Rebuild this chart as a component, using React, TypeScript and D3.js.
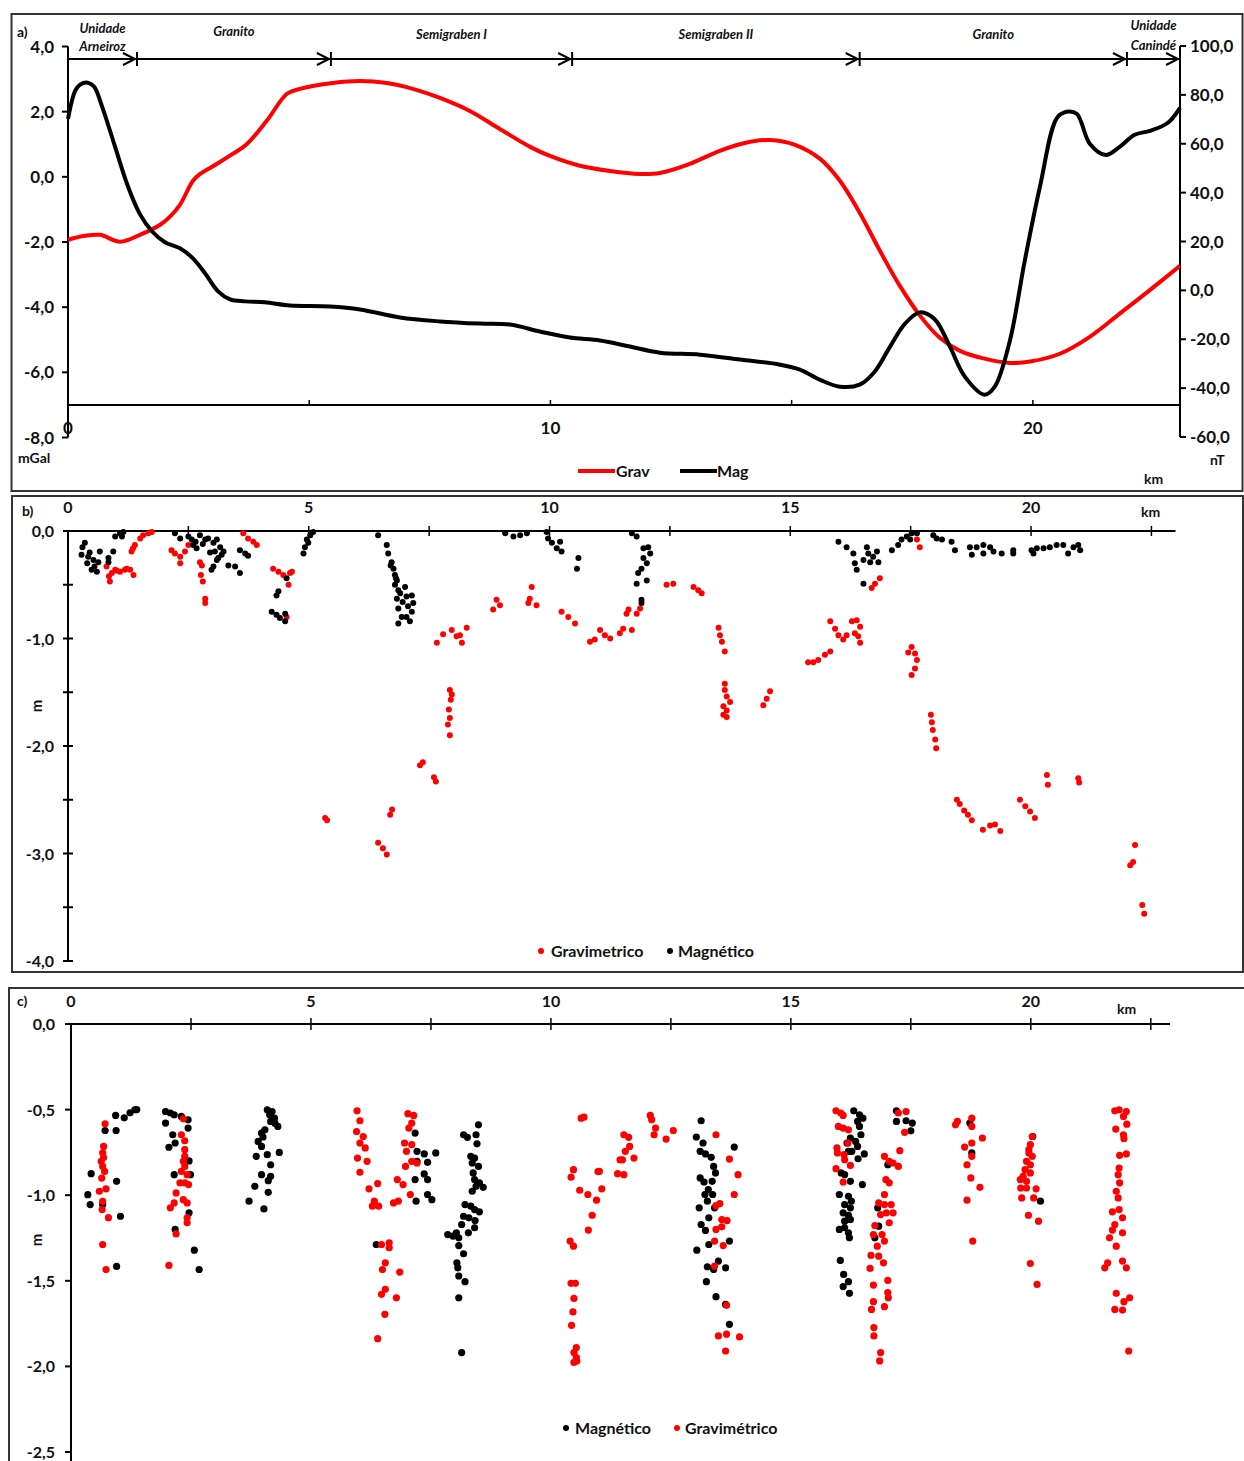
import React from 'react';
import * as d3 from 'd3';

const FONT = 'Lato, "Open Sans", sans-serif';

// a) perfil gravimétrico (mGal) e magnético (nT) ao longo do perfil (km)
const gravKm = [0, 0.35, 0.66, 1.08, 1.49, 1.91, 2.11, 2.32, 2.59, 2.74, 3.09, 3.42, 3.71, 4.12, 4.54, 4.81, 5.49, 6.05, 6.61, 7.15, 7.71, 8.33, 8.95, 9.58, 9.99, 10.61, 11.23, 11.85, 12.27, 12.89, 13.51, 14.03, 14.55, 15.07, 15.59, 16.0, 16.41, 16.83, 17.24, 17.66, 18.07, 18.49, 19.0, 19.52, 19.94, 20.56, 21.18, 21.8, 22.43, 23.05];
const gravMgal = [-1.93, -1.81, -1.78, -1.99, -1.78, -1.47, -1.23, -0.86, -0.12, 0.09, 0.4, 0.71, 1.01, 1.72, 2.55, 2.7, 2.88, 2.94, 2.88, 2.7, 2.42, 2.02, 1.47, 0.92, 0.64, 0.34, 0.18, 0.09, 0.12, 0.4, 0.8, 1.04, 1.13, 0.98, 0.55, -0.12, -1.1, -2.27, -3.34, -4.26, -4.94, -5.34, -5.58, -5.71, -5.67, -5.43, -4.91, -4.2, -3.47, -2.73];

const magKm = [0, 0.15, 0.25, 0.41, 0.54, 0.7, 0.97, 1.24, 1.49, 1.74, 2.01, 2.32, 2.59, 2.84, 3.11, 3.36, 3.67, 4.08, 4.6, 5.43, 6.05, 6.88, 7.71, 8.54, 9.16, 9.78, 10.4, 11.03, 11.65, 12.27, 13.1, 13.93, 14.76, 15.17, 15.59, 16.0, 16.41, 16.72, 17.04, 17.35, 17.66, 17.97, 18.28, 18.59, 19.0, 19.21, 19.52, 19.83, 20.15, 20.5, 20.7, 20.91, 21.18, 21.51, 21.8, 22.11, 22.43, 22.8, 23.05];
const magNt = [70.2, 81.7, 84.2, 85.0, 83.4, 75.6, 59.1, 42.7, 31.2, 24.2, 19.7, 17.2, 13.1, 7.0, -0.4, -3.7, -4.5, -4.9, -6.2, -6.6, -7.8, -11.1, -12.7, -13.6, -14.0, -16.8, -19.3, -20.5, -23.0, -25.5, -26.3, -28.3, -30.4, -32.4, -36.6, -39.4, -38.6, -33.3, -23.0, -13.6, -9.0, -11.9, -23.0, -35.3, -42.7, -39.4, -20.9, 11.9, 42.7, 70.6, 73.1, 72.3, 60.0, 55.4, 58.7, 63.7, 65.3, 68.6, 74.7];

const unitBounds = [0, 1.43, 5.45, 10.45, 16.41, 21.95, 23.05];
const unitNames = [['Unidade', 'Arneiroz'], ['Granito'], ['Semigraben I'], ['Semigraben II'], ['Granito'], ['Unidade', 'Canindé']];

const gravTicks = [4, 2, 0, -2, -4, -6, -8];
const magTicks = [100, 80, 60, 40, 20, 0, -20, -40, -60];
const kmTicksA = [5, 10, 15, 20];
const kmLabelsA = [0, 10, 20];

// b) profundidade (m) — fontes gravimétricas e magnéticas
const gravB = [
  [0.80, -0.33], [0.91, -0.39], [0.87, -0.47], [0.98, -0.36], [1.08, -0.38], [1.18, -0.36], [1.29, -0.36], [1.36, -0.41], [1.32, -0.19], [1.39, -0.13], [1.50, -0.07], [1.56, -0.04], [1.67, -0.02], [1.74, -0.01], [0.85, -0.42], [1.02, -0.37], [1.22, -0.35], [1.35, -0.16],
  [2.15, -0.18], [2.22, -0.21], [2.33, -0.24], [2.33, -0.30], [2.43, -0.19], [2.50, -0.13], [2.74, -0.29], [2.78, -0.32], [2.76, -0.41], [2.80, -0.47], [2.85, -0.63], [2.85, -0.67], [3.64, -0.02], [3.74, -0.07], [3.85, -0.10], [3.92, -0.13],
  [4.26, -0.35], [4.37, -0.38], [4.47, -0.41], [4.61, -0.39], [4.65, -0.38], [4.58, -0.50], [4.54, -0.80],
  [5.34, -2.67], [5.38, -2.69], [6.44, -2.90], [6.54, -2.95], [6.62, -3.01], [6.69, -2.64], [6.73, -2.59], [7.37, -2.15], [7.31, -2.18], [7.60, -2.29], [7.64, -2.33],
  [7.93, -1.48], [7.95, -1.57], [7.91, -1.66], [7.93, -1.74], [7.89, -1.80], [7.93, -1.90], [7.97, -1.52], [7.66, -1.04], [7.79, -0.96], [7.97, -0.92], [8.07, -0.98], [8.14, -0.97], [8.28, -0.90], [8.18, -1.04],
  [8.90, -0.64], [8.83, -0.73], [8.97, -0.69], [9.63, -0.52], [9.59, -0.63], [9.56, -0.67], [9.73, -0.69], [10.25, -0.75], [10.39, -0.80], [10.53, -0.86], [10.84, -1.03], [10.94, -1.01], [11.05, -0.92], [11.15, -0.97], [11.26, -1.00], [11.46, -0.95], [11.53, -0.91], [11.71, -0.92], [11.60, -0.77], [11.64, -0.73], [11.81, -0.77], [11.88, -0.72],
  [12.43, -0.50], [12.57, -0.49], [12.99, -0.52], [13.09, -0.55], [13.16, -0.58],
  [13.51, -0.90], [13.54, -0.97], [13.58, -1.03], [13.64, -1.12], [13.64, -1.42], [13.64, -1.48], [13.68, -1.54], [13.75, -1.59], [13.61, -1.63], [13.68, -1.67], [13.61, -1.71], [13.68, -1.73], [14.58, -1.49], [14.51, -1.56], [14.44, -1.62],
  [15.37, -1.22], [15.48, -1.22], [15.58, -1.20], [15.72, -1.15], [15.83, -1.12], [15.83, -0.84], [15.93, -0.91], [16.00, -0.97], [16.10, -1.01], [16.17, -0.97], [16.28, -0.84], [16.38, -0.83], [16.45, -0.89], [16.41, -0.98], [16.45, -1.04], [16.34, -0.95],
  [16.86, -0.44], [16.76, -0.49], [16.69, -0.53], [17.63, -0.08], [17.69, -0.15],
  [17.52, -1.08], [17.59, -1.14], [17.63, -1.20], [17.59, -1.28], [17.52, -1.34], [17.45, -1.13],
  [17.92, -1.71], [17.94, -1.78], [17.96, -1.85], [18.01, -1.94], [18.03, -2.02], [18.46, -2.50], [18.52, -2.54], [18.61, -2.60], [18.69, -2.64], [18.77, -2.69], [19.00, -2.78], [19.15, -2.74], [19.25, -2.73], [19.36, -2.79],
  [19.77, -2.50], [19.88, -2.56], [19.98, -2.61], [20.08, -2.67], [20.33, -2.27], [20.35, -2.36], [20.98, -2.30], [21.00, -2.34], [22.16, -2.92], [22.12, -3.08], [22.06, -3.11], [22.31, -3.48], [22.35, -3.56],
];
const magB = [
  [0.35, -0.11], [0.42, -0.24], [0.28, -0.22], [0.53, -0.27], [0.49, -0.36], [0.60, -0.38], [0.66, -0.19], [0.63, -0.29], [0.84, -0.25], [0.94, -0.19], [0.84, -0.29], [0.98, -0.05], [1.08, -0.02], [1.12, -0.05], [1.15, -0.01], [0.30, -0.15], [0.40, -0.30], [0.55, -0.33], [0.45, -0.20],
  [2.22, -0.02], [2.33, -0.07], [2.50, -0.05], [2.57, -0.08], [2.60, -0.13], [2.74, -0.04], [2.85, -0.08], [2.91, -0.07], [3.02, -0.11], [3.09, -0.08], [3.16, -0.15], [3.05, -0.19], [3.19, -0.22], [3.09, -0.27], [3.02, -0.33], [2.98, -0.36], [3.23, -0.19], [3.33, -0.32], [3.47, -0.33], [3.57, -0.39], [2.67, -0.16], [3.57, -0.18], [3.68, -0.21], [3.74, -0.23], [2.80, -0.12], [2.95, -0.20], [3.12, -0.25], [2.65, -0.10],
  [4.37, -0.56], [4.33, -0.60], [4.23, -0.75], [4.33, -0.78], [4.40, -0.81], [4.51, -0.84], [4.54, -0.44], [4.51, -0.77],
  [4.89, -0.21], [4.92, -0.15], [4.96, -0.08], [5.03, -0.04], [5.09, -0.01], [4.99, -0.11],
  [6.44, -0.04], [6.62, -0.13], [6.65, -0.21], [6.72, -0.29], [6.76, -0.35], [6.79, -0.41], [6.83, -0.46], [6.79, -0.50], [6.86, -0.55], [6.90, -0.58], [6.83, -0.63], [7.00, -0.52], [7.03, -0.61], [7.14, -0.60], [7.17, -0.67], [6.86, -0.72], [6.93, -0.80], [6.86, -0.86], [7.03, -0.80], [7.10, -0.84], [7.14, -0.75], [6.70, -0.32], [6.81, -0.44], [6.95, -0.66], [7.06, -0.70],
  [9.08, -0.02], [9.25, -0.05], [9.39, -0.04], [9.53, -0.02], [9.94, -0.01], [9.97, -0.07], [10.05, -0.11], [10.15, -0.16], [10.25, -0.19], [10.22, -0.10], [10.60, -0.25], [10.57, -0.35],
  [11.71, -0.02], [11.81, -0.05], [11.95, -0.16], [12.05, -0.15], [12.09, -0.21], [11.95, -0.25], [12.02, -0.30], [11.91, -0.35], [11.84, -0.39], [12.02, -0.46], [11.81, -0.49], [11.91, -0.64], [11.91, -0.67],
  [16.00, -0.10], [16.17, -0.15], [16.31, -0.21], [16.34, -0.30], [16.38, -0.36], [16.52, -0.49], [16.59, -0.15], [16.62, -0.21], [16.72, -0.24], [16.66, -0.29], [16.80, -0.19], [16.83, -0.29], [16.52, -0.27],
  [17.11, -0.18], [17.24, -0.13], [17.31, -0.08], [17.42, -0.05], [17.52, -0.02], [17.63, -0.02], [17.49, -0.08], [17.97, -0.04], [18.04, -0.07], [18.15, -0.08], [18.35, -0.10], [18.42, -0.18], [18.73, -0.15], [18.77, -0.22], [18.87, -0.15], [19.01, -0.13], [19.01, -0.21], [19.15, -0.15], [19.22, -0.19], [19.39, -0.21], [19.63, -0.18], [19.63, -0.21],
  [20.01, -0.18], [20.12, -0.16], [20.26, -0.16], [20.39, -0.15], [20.53, -0.13], [20.67, -0.13], [20.77, -0.21], [20.88, -0.15], [20.98, -0.13], [21.02, -0.18], [20.05, -0.21],
];
const depthTicksB = [0, -0.5, -1, -1.5, -2, -2.5, -3, -3.5, -4];
const depthLabelsB = [0, -1, -2, -3, -4];

// c) profundidade (m) — segunda estimativa
const magC = [
  [0.42, -0.874], [0.35, -0.997], [0.40, -1.055], [0.66, -1.055], [0.71, -0.622], [0.93, -0.534], [0.94, -0.622], [0.95, -0.919], [1.03, -1.123], [0.95, -1.416], [1.11, -0.548], [1.23, -0.519], [1.33, -0.501], [1.37, -0.5],
  [1.97, -0.511], [2.07, -0.52], [2.15, -0.53], [2.30, -0.54], [2.44, -0.56], [1.97, -0.579], [2.12, -0.647], [2.17, -0.695], [2.04, -0.72], [2.44, -0.608], [2.15, -0.88], [2.49, -0.88], [2.46, -0.80], [2.46, -1.103], [2.17, -1.20], [2.57, -1.321], [2.67, -1.434],
  [4.09, -0.501], [4.19, -0.511], [4.24, -0.55], [4.16, -0.569], [4.31, -0.598], [4.04, -0.618], [3.97, -0.637], [3.90, -0.686], [3.97, -0.715], [3.86, -0.773], [4.09, -0.763], [4.16, -0.822], [4.34, -0.75], [3.97, -0.88], [4.16, -0.89], [4.11, -0.915], [3.83, -0.948], [4.11, -0.983], [3.71, -1.035], [4.02, -1.08], [4.14, -0.53], [4.25, -0.58], [4.00, -0.66],
  [6.36, -1.288], [7.17, -0.637], [7.21, -0.744], [7.36, -0.759], [7.60, -0.753], [7.21, -0.802], [7.43, -0.808], [7.36, -0.876], [7.43, -0.909], [7.17, -0.909], [7.43, -0.996], [7.52, -1.026], [7.19, -1.035],
  [8.49, -0.589], [8.18, -0.647], [8.26, -0.662], [8.44, -0.647], [8.46, -0.70], [8.33, -0.773], [8.41, -0.783], [8.36, -0.812], [8.49, -0.832], [8.38, -0.87], [8.41, -0.909], [8.51, -0.928], [8.59, -0.954], [8.44, -0.948], [8.36, -0.977], [8.21, -1.055], [8.33, -1.064], [8.51, -1.097], [8.41, -1.084], [8.18, -1.123], [8.29, -1.132], [8.42, -1.148], [8.14, -1.171], [8.41, -1.19], [8.28, -1.22], [8.03, -1.22], [7.85, -1.23], [7.96, -1.239], [8.08, -1.249], [8.08, -1.294], [8.18, -1.342], [8.04, -1.395], [8.06, -1.424], [8.08, -1.472], [8.21, -1.505], [8.08, -1.599], [8.14, -1.919],
  [13.13, -0.565], [13.03, -0.66], [13.17, -0.695], [13.11, -0.744], [13.22, -0.759], [13.34, -0.779], [13.39, -0.832], [13.43, -0.87], [13.11, -0.899], [13.19, -0.923], [13.36, -0.919], [13.28, -0.967], [13.21, -0.996], [13.37, -0.996], [13.26, -1.035], [13.09, -1.074], [13.41, -1.074], [13.29, -1.132], [13.13, -1.171], [13.22, -1.206], [13.29, -1.288], [13.04, -1.321], [13.72, -1.268], [13.26, -1.418], [13.49, -1.385], [13.64, -1.424], [13.39, -1.434], [13.24, -1.505], [13.44, -1.593], [13.64, -1.638], [13.72, -1.754], [13.82, -0.719],
  [16.31, -0.507], [16.43, -0.53], [16.50, -0.55], [16.39, -0.569], [16.43, -0.598], [16.46, -0.647], [16.24, -0.666], [16.35, -0.686], [16.39, -0.715], [16.27, -0.744], [16.53, -0.759], [16.40, -0.787], [16.17, -0.695], [16.20, -0.744], [16.05, -0.87], [16.12, -0.88], [16.24, -0.919], [16.49, -0.938], [16.01, -0.996], [16.20, -1.006], [16.26, -1.035], [16.12, -1.055], [16.24, -1.074], [16.09, -1.103], [16.20, -1.117], [16.12, -1.152], [16.24, -1.142], [16.01, -1.2], [16.12, -1.19], [16.20, -1.22], [16.22, -1.249], [16.03, -1.381], [16.10, -1.463], [16.20, -1.505], [16.09, -1.534], [16.22, -1.573],
  [17.20, -0.507], [17.40, -0.565], [17.20, -0.569], [17.53, -0.579], [17.50, -0.624], [17.02, -0.822], [16.75, -1.249], [16.83, -1.181], [16.81, -1.074],
  [18.73, -0.579], [18.77, -0.753], [20.04, -0.657], [20.20, -1.035],
];
const gravC = [
  [0.71, -0.583], [0.68, -0.715], [0.66, -0.752], [0.63, -0.802], [0.66, -0.832], [0.70, -0.861], [0.59, -0.977], [0.73, -0.963], [0.66, -1.036], [0.65, -1.084], [0.78, -1.131], [0.66, -1.288], [0.73, -1.434], [0.68, -0.78], [0.64, -0.90],
  [2.34, -0.554], [2.30, -0.647], [2.37, -0.682], [2.37, -0.734], [2.37, -0.773], [2.34, -0.802], [2.37, -0.832], [2.30, -0.861], [2.42, -0.88], [2.27, -0.928], [2.37, -0.928], [2.45, -0.938], [2.19, -0.987], [2.34, -1.026], [2.15, -1.045], [2.07, -1.074], [2.42, -1.045], [2.42, -1.132], [2.42, -1.161], [2.19, -1.226], [2.04, -1.41],
  [5.96, -0.507], [6.02, -0.565], [5.95, -0.628], [6.09, -0.657], [6.02, -0.695], [6.13, -0.724], [5.97, -0.783], [6.17, -0.802], [6.02, -0.866], [6.39, -0.932], [6.21, -0.963], [6.32, -1.035], [6.28, -1.064], [6.41, -1.064], [6.72, -1.045], [6.82, -1.035], [6.80, -0.909], [6.92, -0.938], [7.07, -0.996],
  [6.47, -1.288], [6.63, -1.278], [6.63, -1.307], [6.55, -1.395], [6.49, -1.434], [6.85, -1.449], [6.55, -1.55], [6.47, -1.579], [6.78, -1.599], [6.54, -1.696], [6.39, -1.838],
  [7.02, -0.524], [7.14, -0.534], [7.10, -0.579], [7.04, -0.608], [6.95, -0.695], [7.10, -0.705], [6.99, -0.744], [7.10, -0.802], [7.21, -0.812], [6.97, -0.832],
  [10.63, -0.55], [10.69, -0.544], [10.47, -0.851], [10.42, -0.895], [10.60, -0.971], [11.01, -0.861], [11.06, -0.963], [10.95, -1.029], [10.86, -1.117], [10.78, -1.204], [10.40, -1.268], [10.47, -1.298], [10.42, -1.515], [10.51, -1.515], [10.48, -1.603], [10.46, -1.682], [10.43, -1.76], [10.53, -1.89], [10.48, -1.919], [10.53, -1.948], [10.48, -1.977], [10.54, -1.968],
  [11.39, -0.874], [11.44, -0.793], [10.98, -0.862], [10.77, -0.996], [11.52, -0.647], [11.62, -0.662], [11.64, -0.715], [11.55, -0.744], [11.73, -0.783], [11.49, -0.793], [11.52, -0.88], [12.07, -0.534], [12.10, -0.559], [12.18, -0.608], [12.15, -0.647], [12.40, -0.672], [12.55, -0.622],
  [13.44, -0.647], [13.72, -0.789], [13.90, -0.88], [13.82, -0.996], [13.52, -1.049], [13.44, -1.061], [13.56, -1.142], [13.67, -1.148], [13.56, -1.185], [13.44, -1.2], [13.41, -1.268], [13.59, -1.294], [13.41, -1.414], [13.66, -1.643], [13.49, -1.822], [13.66, -1.812], [13.93, -1.828], [13.64, -1.91],
  [15.94, -0.507], [16.04, -0.52], [16.09, -0.534], [15.99, -0.598], [16.09, -0.608], [16.20, -0.618], [15.96, -0.724], [16.11, -0.763], [15.97, -0.753], [16.12, -0.793], [16.24, -0.826], [15.94, -0.845], [16.09, -0.923], [16.19, -0.695],
  [16.95, -0.773], [17.05, -0.802], [17.13, -0.812], [17.24, -0.832], [17.27, -0.74], [16.98, -0.909], [17.05, -0.928], [16.95, -0.996], [16.83, -1.045], [16.95, -1.055], [17.09, -1.055], [16.87, -1.113], [16.99, -1.103], [17.13, -1.103], [17.05, -1.161], [16.75, -1.177], [16.72, -1.23], [16.90, -1.23], [16.95, -1.268], [16.80, -1.298], [16.83, -1.356], [16.67, -1.352], [16.93, -1.395], [16.65, -1.428], [16.72, -1.525], [17.02, -1.498], [17.02, -1.569], [17.03, -1.599], [16.72, -1.622], [16.68, -1.667], [16.95, -1.651], [16.73, -1.773], [16.73, -1.822], [16.87, -1.919], [16.85, -1.968], [17.24, -0.52], [17.40, -0.511], [17.37, -0.633],
  [18.43, -0.589], [18.47, -0.569], [18.77, -0.55], [18.77, -0.598], [18.99, -0.666], [18.77, -0.695], [18.62, -0.719], [18.77, -0.773], [18.67, -0.822], [18.75, -0.899], [18.94, -0.954], [18.67, -1.029], [18.79, -1.268],
  [20.03, -0.657], [19.99, -0.705], [19.96, -0.753], [20.03, -0.773], [19.91, -0.802], [19.99, -0.822], [19.88, -0.851], [19.99, -0.87], [19.84, -0.89], [19.91, -0.919], [19.78, -0.909], [19.79, -0.958], [19.91, -0.958], [20.11, -0.963], [19.81, -1.016], [20.06, -1.016], [19.95, -1.117], [20.16, -1.152], [19.99, -1.399], [20.13, -1.521], [19.96, -0.734],
  [21.75, -0.507], [21.84, -0.501], [21.99, -0.511], [21.93, -0.54], [22.00, -0.585], [21.77, -0.614], [21.93, -0.647], [21.94, -0.67], [21.99, -0.759], [21.85, -0.767], [21.84, -0.841], [21.82, -0.88], [21.85, -0.928], [21.78, -0.977], [21.82, -1.016], [21.84, -1.084], [21.70, -1.097], [21.91, -1.132], [21.75, -1.171], [21.70, -1.204], [21.91, -1.22], [21.64, -1.249], [21.78, -1.298], [21.54, -1.424], [21.60, -1.395], [21.91, -1.385], [21.99, -1.424], [21.78, -1.573], [22.06, -1.599], [21.94, -1.622], [21.75, -1.667], [21.91, -1.671], [22.04, -1.91],
];
const depthTicksC = [0, -0.5, -1, -1.5, -2, -2.5];
const kmTicks = [2.5, 5, 7.5, 10, 12.5, 15, 17.5, 20, 22.5];
const kmLabels = [0, 5, 10, 15, 20];

const RED = '#ff0000';
const fmt = (v: number) => v.toFixed(1).replace('.', ',');

const lbl = { fontFamily: FONT, fontWeight: 700, fill: '#111' } as const;

export default function App() {
  // ---------- a) ----------
  const xA = d3.scaleLinear().domain([0, 23.05]).range([68, 1180]);
  const yGrav = d3.scaleLinear().domain([-8, 4]).range([437.5, 46.5]);
  const yMag = d3.scaleLinear().domain([-60, 100]).range([437, 46]);
  const gravLine = d3.line<number>().x((_, i) => xA(gravKm[i])).y(d => yGrav(d)).curve(d3.curveCatmullRom.alpha(0.5));
  const magLine = d3.line<number>().x((_, i) => xA(magKm[i])).y(d => yMag(d)).curve(d3.curveCatmullRom.alpha(0.5));
  const arrowY = 59;
  const axisYA = yGrav(-7);

  // ---------- b) ----------
  const xB = d3.scaleLinear().domain([0, 23]).range([68, 1175.5]);
  const yB = d3.scaleLinear().domain([-4, 0]).range([961, 531]);

  // ---------- c) ----------
  const xC = d3.scaleLinear().domain([0, 22.9]).range([71, 1170]);
  const yC = d3.scaleLinear().domain([-2.5, 0]).range([1452, 1024]);

  return (
    <svg width={1244} height={1461} style={{ position: 'absolute', left: 0, top: 0, background: '#fff' }}>
      {/* molduras */}
      <rect x={11.5} y={14} width={1231} height={477} fill="none" stroke="#333" strokeWidth={2} />
      <rect x={12} y={496} width={1231} height={476} fill="none" stroke="#333" strokeWidth={2} />
      <rect x={9} y={988} width={1243} height={480} fill="none" stroke="#333" strokeWidth={2} />

      {/* ===== painel a ===== */}
      <text x={17} y={37} fontSize={14} {...lbl}>a)</text>
      {/* unidades geológicas */}
      <line x1={xA(0)} x2={xA(23.05)} y1={arrowY} y2={arrowY} stroke="#000" strokeWidth={2} />
      {unitBounds.slice(1).map((b, i) => (
        <g key={'ub' + i} stroke="#000" strokeWidth={2} fill="none">
          <line x1={xA(b)} x2={xA(b)} y1={arrowY - 7} y2={arrowY + 7} />
          <path d={`M${xA(b) - 14},${arrowY - 6}L${xA(b) - 2},${arrowY}L${xA(b) - 14},${arrowY + 6}`} />
        </g>
      ))}
      {unitNames.map((n, i) => {
        const cx = (xA(unitBounds[i]) + xA(unitBounds[i + 1])) / 2;
        return n.length === 2 ? (
          <g key={'un' + i}>
            <text x={cx} y={i === 0 ? 33 : 30} textAnchor="middle" fontSize={13} fontStyle="italic" {...lbl}>{n[0]}</text>
            <text x={cx} y={i === 0 ? 51 : 50} textAnchor="middle" fontSize={13} fontStyle="italic" {...lbl}>{n[1]}</text>
          </g>
        ) : (
          <text key={'un' + i} x={cx} y={i === 1 ? 36 : 39} textAnchor="middle" fontSize={13} fontStyle="italic" {...lbl}>{n[0]}</text>
        );
      })}

      {/* eixo esquerdo mGal */}
      <line x1={68} x2={68} y1={yGrav(4)} y2={yGrav(-8)} stroke="#000" strokeWidth={2} />
      {gravTicks.map(t => (
        <g key={'gt' + t}>
          <line x1={62} x2={68} y1={yGrav(t)} y2={yGrav(t)} stroke="#000" strokeWidth={2} />
          <text x={54} y={yGrav(t) + 6} textAnchor="end" fontSize={17} {...lbl}>{fmt(t)}</text>
        </g>
      ))}
      <text x={18} y={463} fontSize={14} {...lbl}>mGal</text>
      {/* eixo direito nT */}
      <line x1={1180} x2={1180} y1={yMag(100)} y2={yMag(-60)} stroke="#000" strokeWidth={2} />
      {magTicks.map(t => (
        <g key={'mt' + t}>
          <line x1={1180} x2={1186} y1={yMag(t)} y2={yMag(t)} stroke="#000" strokeWidth={2} />
          <text x={1190} y={yMag(t) + 6} fontSize={17} {...lbl}>{fmt(t)}</text>
        </g>
      ))}
      <text x={1210} y={465} fontSize={14} {...lbl}>nT</text>
      {/* eixo x */}
      <line x1={68} x2={1180} y1={axisYA} y2={axisYA} stroke="#000" strokeWidth={2} />
      {kmTicksA.map(t => (
        <line key={'xa' + t} x1={xA(t)} x2={xA(t)} y1={axisYA - 5} y2={axisYA} stroke="#000" strokeWidth={1.5} />
      ))}
      {kmLabelsA.map(t => (
        <text key={'xal' + t} x={xA(t)} y={434} textAnchor="middle" fontSize={17} {...lbl}>{t}</text>
      ))}
      <text x={1144} y={484} fontSize={14} {...lbl}>km</text>

      <path d={gravLine(gravMgal) || ''} fill="none" stroke={RED} strokeWidth={4} strokeLinejoin="round" />
      <path d={magLine(magNt) || ''} fill="none" stroke="#000" strokeWidth={4} strokeLinejoin="round" />

      {/* legenda a */}
      <line x1={578} x2={615} y1={471} y2={471} stroke={RED} strokeWidth={4} />
      <text x={616} y={477} fontSize={16} {...lbl}>Grav</text>
      <line x1={680} x2={717} y1={471} y2={471} stroke="#000" strokeWidth={4} />
      <text x={717} y={477} fontSize={16} {...lbl}>Mag</text>

      {/* ===== painel b ===== */}
      <text x={22} y={516} fontSize={14} {...lbl}>b)</text>
      <line x1={xB(0)} x2={xB(23)} y1={yB(0)} y2={yB(0)} stroke="#000" strokeWidth={2} />
      {kmTicks.map(t => (
        <line key={'xb' + t} x1={xB(t)} x2={xB(t)} y1={yB(0) - 5} y2={yB(0) + 5} stroke="#000" strokeWidth={1.5} />
      ))}
      {kmLabels.map(t => (
        <text key={'xbl' + t} x={xB(t)} y={513} textAnchor="middle" fontSize={16} {...lbl}>{t}</text>
      ))}
      <text x={1141} y={517} fontSize={14} {...lbl}>km</text>
      <line x1={68} x2={68} y1={yB(0)} y2={yB(-4)} stroke="#000" strokeWidth={2} />
      {depthTicksB.map(t => (
        <line key={'yb' + t} x1={63} x2={73} y1={yB(t)} y2={yB(t)} stroke="#000" strokeWidth={2} />
      ))}
      {depthLabelsB.map(t => (
        <text key={'ybl' + t} x={54} y={yB(t) + 6} textAnchor="end" fontSize={16} {...lbl}>{fmt(t)}</text>
      ))}
      <text transform="translate(42,706) rotate(-90)" textAnchor="middle" fontSize={15} {...lbl}>m</text>
      {gravB.map((d, i) => (
        <circle key={'gb' + i} cx={xB(d[0])} cy={yB(d[1])} r={3} fill={RED} />
      ))}
      {magB.map((d, i) => (
        <circle key={'mb' + i} cx={xB(d[0])} cy={yB(d[1])} r={3} fill="#000" />
      ))}
      <circle cx={541} cy={951} r={3} fill={RED} />
      <text x={551} y={957} fontSize={16} {...lbl}>Gravimetrico</text>
      <circle cx={670} cy={951} r={3} fill="#000" />
      <text x={678} y={957} fontSize={16} {...lbl}>Magnético</text>

      {/* ===== painel c ===== */}
      <text x={17} y={1006} fontSize={14} {...lbl}>c)</text>
      <line x1={xC(0)} x2={xC(22.9)} y1={yC(0)} y2={yC(0)} stroke="#000" strokeWidth={2} />
      {kmTicks.map(t => (
        <line key={'xc' + t} x1={xC(t)} x2={xC(t)} y1={yC(0) - 6} y2={yC(0) + 6} stroke="#000" strokeWidth={1.5} />
      ))}
      {kmLabels.map(t => (
        <text key={'xcl' + t} x={xC(t)} y={1007} textAnchor="middle" fontSize={16} {...lbl}>{t}</text>
      ))}
      <text x={1117} y={1014} fontSize={14} {...lbl}>km</text>
      <line x1={71} x2={71} y1={yC(0)} y2={1461} stroke="#000" strokeWidth={2} />
      {depthTicksC.map(t => (
        <g key={'yc' + t}>
          <line x1={65} x2={71} y1={yC(t)} y2={yC(t)} stroke="#000" strokeWidth={2} />
          <text x={55} y={yC(t) + 6} textAnchor="end" fontSize={16} {...lbl}>{fmt(t)}</text>
        </g>
      ))}
      <text transform="translate(42,1240) rotate(-90)" textAnchor="middle" fontSize={15} {...lbl}>m</text>
      {magC.map((d, i) => (
        <circle key={'mc' + i} cx={xC(d[0])} cy={yC(d[1])} r={3.6} fill="#000" />
      ))}
      {gravC.map((d, i) => (
        <circle key={'gc' + i} cx={xC(d[0])} cy={yC(d[1])} r={3.6} fill={RED} />
      ))}
      <circle cx={566} cy={1428} r={3} fill="#000" />
      <text x={575} y={1434} fontSize={16} {...lbl}>Magnético</text>
      <circle cx={677} cy={1428} r={3} fill={RED} />
      <text x={685} y={1434} fontSize={16} {...lbl}>Gravimétrico</text>
    </svg>
  );
}
